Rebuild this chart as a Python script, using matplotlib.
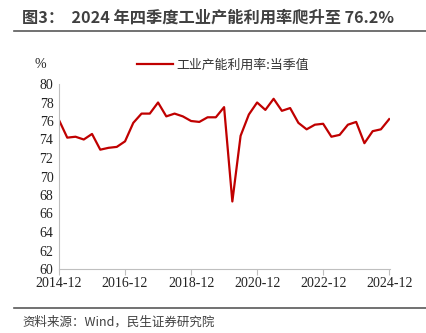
import matplotlib.pyplot as plt

plt.rcParams['font.family'] = ['Noto Sans CJK SC', 'DejaVu Sans']

# quarterly capacity utilisation, 2014Q4 .. 2024Q4
values = [76.1,
          74.2, 74.3, 74.0, 74.6,
          72.9, 73.1, 73.2, 73.8,
          75.8, 76.8, 76.8, 78.0,
          76.5, 76.8, 76.5, 76.0,
          75.9, 76.4, 76.4, 77.5,
          67.3, 74.4, 76.7, 78.0,
          77.2, 78.4, 77.1, 77.4,
          75.8, 75.1, 75.6, 75.7,
          74.3, 74.5, 75.6, 75.9,
          73.6, 74.9, 75.1, 76.2]
tick_labels = ["2014-12", "2016-12", "2018-12", "2020-12", "2022-12", "2024-12"]
tick_pos = [0, 8, 16, 24, 32, 40]
series_name = "工业产能利用率:当季值"

fig = plt.figure(figsize=(4.27, 3.33), dpi=100)
ax = fig.add_axes([59 / 427, 1 - 269 / 333, 331 / 427, 185 / 333])

ax.plot(range(len(values)), values, color="#C00000", lw=1.6, label=series_name)
ax.set_xlim(0, 40.1)
ax.set_ylim(60, 80)
ax.set_yticks(range(60, 81, 2))
ax.set_xticks(tick_pos)
ax.set_xticklabels(tick_labels)

serif = ["Liberation Serif", "DejaVu Serif"]
for lab in ax.get_xticklabels() + ax.get_yticklabels():
    lab.set_family(serif)
    lab.set_fontsize(10)
    lab.set_color("#222222")

for s in ["top", "right"]:
    ax.spines[s].set_visible(False)
for s in ["left", "bottom"]:
    ax.spines[s].set_color("#BFBFBF")
ax.tick_params(axis="y", length=0, pad=4)
ax.tick_params(axis="x", length=4, color="#BFBFBF", direction="out", pad=2)

fig.text(35 / 427, 1 - 64 / 333, "%", fontsize=10, family=serif, color="#222222", va="center")
ax.legend(loc="upper center", bbox_to_anchor=(0.495, 1.2), frameon=False, fontsize=9.3,
          handlelength=2.8, handletextpad=0.3, labelcolor="#333333")

fig.text(22 / 427, 1 - 18 / 333, "图3：  2024 年四季度工业产能利用率爬升至 76.2%",
         fontsize=11.7, fontweight="bold", color="#404040", va="center")
fig.add_artist(plt.Line2D([14 / 427, 1], [1 - 31 / 333] * 2, color="#595959", lw=1.2))
fig.add_artist(plt.Line2D([14 / 427, 1], [1 - 308 / 333] * 2, color="#595959", lw=1.2))
fig.text(22 / 427, 1 - 322 / 333, "资料来源：Wind，民生证券研究院", fontsize=9,
         color="#404040", va="center")

fig.savefig("out.png", dpi=100)
